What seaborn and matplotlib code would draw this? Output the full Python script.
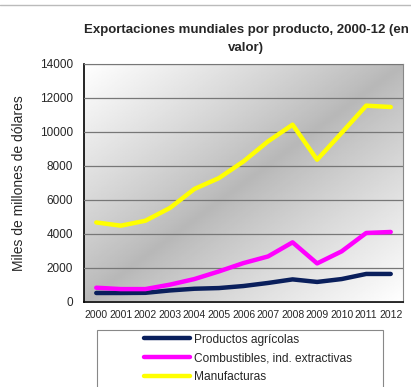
import numpy as np
import pandas as pd
import matplotlib
matplotlib.use("Agg")
import matplotlib.pyplot as plt
import seaborn as sns
from matplotlib.lines import Line2D
from matplotlib.patches import Rectangle

years = ["2000", "2001", "2002", "2003", "2004", "2005", "2006", "2007", "2008", "2009", "2010", "2011", "2012"]
agricolas = [530, 530, 540, 680, 780, 820, 940, 1120, 1330, 1180, 1350, 1650, 1650]
combustibles = [840, 760, 760, 1020, 1350, 1800, 2290, 2680, 3510, 2270, 2980, 4060, 4120]
manufacturas = [4680, 4490, 4780, 5530, 6650, 7290, 8270, 9450, 10430, 8370, 9950, 11550, 11470]
series_names = ["Productos agrícolas", "Combustibles, ind. extractivas", "Manufacturas"]
colors = ["#0a1f5c", "#ff00ff", "#ffff00"]

sns.set_style("white")
plt.rcParams['font.family'] = ['Liberation Sans', 'DejaVu Sans']

df = pd.DataFrame({
    "idx": list(range(len(years))) * 3,
    "value": agricolas + combustibles + manufacturas,
    "serie": [series_names[0]] * len(years) + [series_names[1]] * len(years) + [series_names[2]] * len(years),
})

fig = plt.figure(figsize=(4.11, 3.87), dpi=100)
ax = fig.add_axes([84/411, 1-302/387, (403-84)/411, (302-64)/387])

# gradient background
n = 200
xx, yy = np.meshgrid(np.linspace(0, 1, n), np.linspace(0, 1, n))
d = np.abs(xx - (1 - yy))
g = 0.72 + (1 - 0.72) * np.clip(d, 0, 1) ** 0.9
ax.imshow(g, cmap="gray", vmin=0, vmax=1, extent=[-0.5, 12.5, 0, 14000],
          aspect="auto", origin="upper", zorder=0)

sns.lineplot(data=df, x="idx", y="value", hue="serie", palette=colors,
             linewidth=3.2, ax=ax, legend=False, zorder=3)

ax.set_xlim(-0.5, 12.5)
ax.set_ylim(0, 14000)
ax.set_yticks(range(0, 14001, 2000))
ax.set_xticks(range(len(years)))
ax.set_xticklabels(years, fontsize=7.5)
ax.set_xticks(np.arange(-0.5, 12.6, 1), minor=True)
ax.tick_params(axis="x", which="major", length=0, pad=6)
ax.tick_params(axis="x", which="minor", length=4, width=0.8, color="#555555", direction="out")
ax.tick_params(axis="y", length=4, width=0.8, color="#555555", direction="out", labelsize=8.5, pad=4)
ax.yaxis.grid(True, color="#777777", linewidth=0.9, zorder=1)
ax.set_axisbelow(False)
for gl in ax.get_ygridlines():
    gl.set_zorder(1)
ax.set_xlabel("")
ax.set_ylabel("Miles de millones de dólares", fontsize=10, labelpad=10)

for s in ["left", "bottom"]:
    ax.spines[s].set_color("black")
    ax.spines[s].set_linewidth(1.2)
for s in ["top", "right"]:
    ax.spines[s].set_color("#888888")
    ax.spines[s].set_linewidth(0.8)

fig.text(246/411, 1-30/387, "Exportaciones mundiales por producto, 2000-12 (en",
         ha="center", va="center", fontsize=9.5, fontweight="bold")
fig.text(246/411, 1-48/387, "valor)",
         ha="center", va="center", fontsize=9.5, fontweight="bold")

# legend box (extends beyond the bottom edge, as in the reference)
fig.add_artist(Rectangle((97/411, -0.1), (383-97)/411, 0.1 + 1 - 330/387,
                         transform=fig.transFigure, facecolor="white",
                         edgecolor="#888888", linewidth=0.8))
handles = [Line2D([], [], color=c, linewidth=3.2) for c in colors]
leg = fig.legend(handles, series_names, loc="upper left",
                 bbox_to_anchor=(134/411, 1-324/387), ncol=1, frameon=False,
                 fontsize=8.6, handlelength=3.9, handletextpad=0.35,
                 borderpad=0.3, labelspacing=0.55)

fig.add_artist(Line2D([0, 1], [1-5/387, 1-5/387], color="#bbbbbb", linewidth=1.0))

fig.savefig("out.png", dpi=100)
